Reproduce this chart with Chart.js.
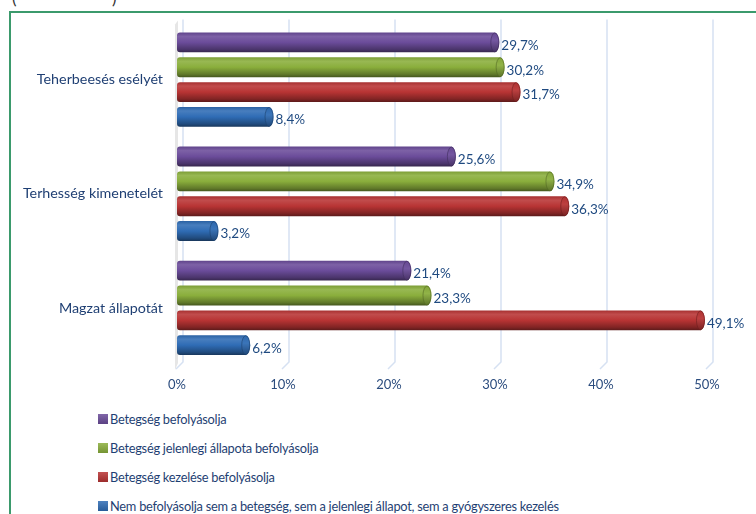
<!DOCTYPE html>
<html lang="hu">
<head>
<meta charset="UTF-8">
<title>Betegség befolyása</title>
<script src="https://cdn.jsdelivr.net/npm/chart.js"></script>
<style>
  html, body { margin: 0; padding: 0; background: #fff; }
  body { width: 756px; height: 514px; overflow: hidden; position: relative; font-family: Lato, "Open Sans", sans-serif; }
  #frame { position: absolute; left: 9px; top: 11px; width: 800px; height: 600px; border: 2px solid #3b9a6c; }
  .paren { position: absolute; top: -13px; font-size: 17px; color: #333; }
  #chartBox { position: absolute; left: 0; top: 0; }
  #legend { position: absolute; left: 98px; top: 411px; color: #1f3f73; font-size: 12.8px; letter-spacing: -0.25px; }
  #legend div { height: 29px; display: flex; align-items: flex-start; }
  #legend span.box { display: inline-block; width: 10px; height: 10px; margin: 3px 2px 0 0; }
</style>
</head>
<body>
<div id="frame"></div>
<div class="paren" style="left:12px">(</div>
<div class="paren" style="left:112px">)</div>
<div id="chartBox"><canvas id="c" width="756" height="400"></canvas></div>
<div id="legend"></div>
<script>
// categories and series (percent)
const categories = ['Teherbeesés esélyét', 'Terhesség kimenetelét', 'Magzat állapotát'];
const seriesNames = [
  'Betegség befolyásolja',
  'Betegség jelenlegi állapota befolyásolja',
  'Betegség kezelése befolyásolja',
  'Nem befolyásolja sem a betegség, sem a jelenlegi állapot, sem a gyógyszeres kezelés'
];
const disease = [29.7, 25.6, 21.4];
const currentState = [30.2, 34.9, 23.3];
const treatment = [31.7, 36.3, 49.1];
const notAffected = [8.4, 3.2, 6.2];
const seriesColors = ['#6b4c9a', '#8aae3c', '#b83434', '#2f6cb5'];
const xTicks = [0, 10, 20, 30, 40, 50];

function shade(hex, f) {
  let r = parseInt(hex.slice(1, 3), 16), g = parseInt(hex.slice(3, 5), 16), b = parseInt(hex.slice(5, 7), 16);
  if (f >= 0) { r += (255 - r) * f; g += (255 - g) * f; b += (255 - b) * f; }
  else { r *= 1 + f; g *= 1 + f; b *= 1 + f; }
  return 'rgb(' + Math.round(r) + ',' + Math.round(g) + ',' + Math.round(b) + ')';
}

// back wall grid lines, slightly shifted for the 3D look
const wallPlugin = {
  id: 'wall',
  beforeDatasetsDraw(chart) {
    const ctx = chart.ctx, area = chart.chartArea, xs = chart.scales.x;
    ctx.save();
    // left wall
    const x0 = xs.getPixelForValue(0);
    ctx.fillStyle = '#e6e6e6';
    ctx.beginPath();
    ctx.moveTo(x0 - 2, area.top + 2);
    ctx.lineTo(x0 + 1, area.top - 2);
    ctx.lineTo(x0 + 1, area.bottom - 2);
    ctx.lineTo(x0 - 2, area.bottom + 5);
    ctx.closePath();
    ctx.fill();
    ctx.strokeStyle = '#d6e1f2';
    ctx.lineWidth = 1.5;
    xTicks.forEach(v => {
      const x = xs.getPixelForValue(v) + 6;
      ctx.beginPath();
      ctx.moveTo(x, area.top - 3);
      ctx.lineTo(x, area.bottom - 3);
      ctx.lineTo(x - 7, area.bottom + 4);
      ctx.stroke();
    });
    ctx.restore();
  }
};

// cylinders and value labels
const cylinderPlugin = {
  id: 'cylinder',
  afterDatasetsDraw(chart) {
    const ctx = chart.ctx;
    ctx.save();
    chart.data.datasets.forEach((ds, di) => {
      const meta = chart.getDatasetMeta(di);
      const col = seriesColors[di];
      meta.data.forEach((bar, i) => {
        const h = bar.height, top = bar.y - h / 2, left = bar.base;
        const end = bar.x + 3, rx = 4.5;
        const g = ctx.createLinearGradient(0, top, 0, top + h);
        g.addColorStop(0, shade(col, -0.1));
        g.addColorStop(0.2, shade(col, 0.12));
        g.addColorStop(0.5, col);
        g.addColorStop(0.85, shade(col, -0.3));
        g.addColorStop(1, shade(col, -0.5));
        ctx.fillStyle = g;
        ctx.beginPath();
        ctx.moveTo(left + 3, top);
        ctx.lineTo(end, top);
        ctx.ellipse(end, bar.y, rx, h / 2, 0, -Math.PI / 2, Math.PI / 2);
        ctx.lineTo(left + 3, top + h);
        ctx.quadraticCurveTo(left, top + h, left, top + h - 3);
        ctx.lineTo(left, top + 3);
        ctx.quadraticCurveTo(left, top, left + 3, top);
        ctx.closePath();
        ctx.fill();
        // end cap
        const cg = ctx.createLinearGradient(0, top, 0, top + h);
        cg.addColorStop(0, shade(col, -0.05));
        cg.addColorStop(0.4, shade(col, 0.06));
        cg.addColorStop(1, shade(col, -0.35));
        ctx.fillStyle = cg;
        ctx.beginPath();
        ctx.ellipse(end, bar.y, rx - 0.5, h / 2 - 0.5, 0, 0, Math.PI * 2);
        ctx.fill();
        ctx.strokeStyle = shade(col, -0.4);
        ctx.lineWidth = 0.6;
        ctx.stroke();
        // label
        ctx.fillStyle = '#1f4a80';
        ctx.font = '13.5px Lato, "Open Sans", sans-serif';
        ctx.textBaseline = 'middle';
        ctx.textAlign = 'left';
        ctx.fillText(ds.data[i].toFixed(1).replace('.', ',') + '%', end + rx + 2, bar.y + 3);
      });
    });
    ctx.restore();
  }
};

const allSeries = [disease, currentState, treatment, notAffected];

new Chart(document.getElementById('c'), {
  type: 'bar',
  data: {
    labels: categories,
    datasets: allSeries.map((d, i) => ({
      label: seriesNames[i],
      data: d,
      backgroundColor: 'rgba(0,0,0,0)',
      borderWidth: 0,
      barPercentage: 0.8,
      categoryPercentage: 0.87
    }))
  },
  options: {
    indexAxis: 'y',
    responsive: false,
    animation: false,
    layout: { padding: { top: 20, right: 49, left: 0, bottom: 0 } },
    scales: {
      x: {
        min: 0, max: 50,
        grid: { display: false, drawTicks: false },
        border: { display: false },
        afterFit(scale) { scale.height = 35; },
        ticks: {
          stepSize: 10,
          padding: 12,
          color: '#2b4c7e',
          font: { family: 'Lato, "Open Sans", sans-serif', size: 13 },
          callback: v => v + '%'
        }
      },
      y: {
        grid: { display: false, drawTicks: false },
        border: { display: false },
        afterFit(scale) { scale.width = 177; },
        ticks: {
          padding: 14,
          color: '#1f3f73',
          font: { family: 'Lato, "Open Sans", sans-serif', size: 14.3 }
        }
      }
    },
    plugins: {
      legend: { display: false },
      tooltip: { enabled: false }
    }
  },
  plugins: [wallPlugin, cylinderPlugin]
});

// legend, one item per line
const legendEl = document.getElementById('legend');
seriesNames.forEach((name, i) => {
  const row = document.createElement('div');
  const box = document.createElement('span');
  box.className = 'box';
  box.style.background = 'linear-gradient(' + shade(seriesColors[i], 0.15) + ',' + shade(seriesColors[i], -0.15) + ')';
  row.appendChild(box);
  row.appendChild(document.createTextNode(name));
  legendEl.appendChild(row);
});
</script>
</body>
</html>
